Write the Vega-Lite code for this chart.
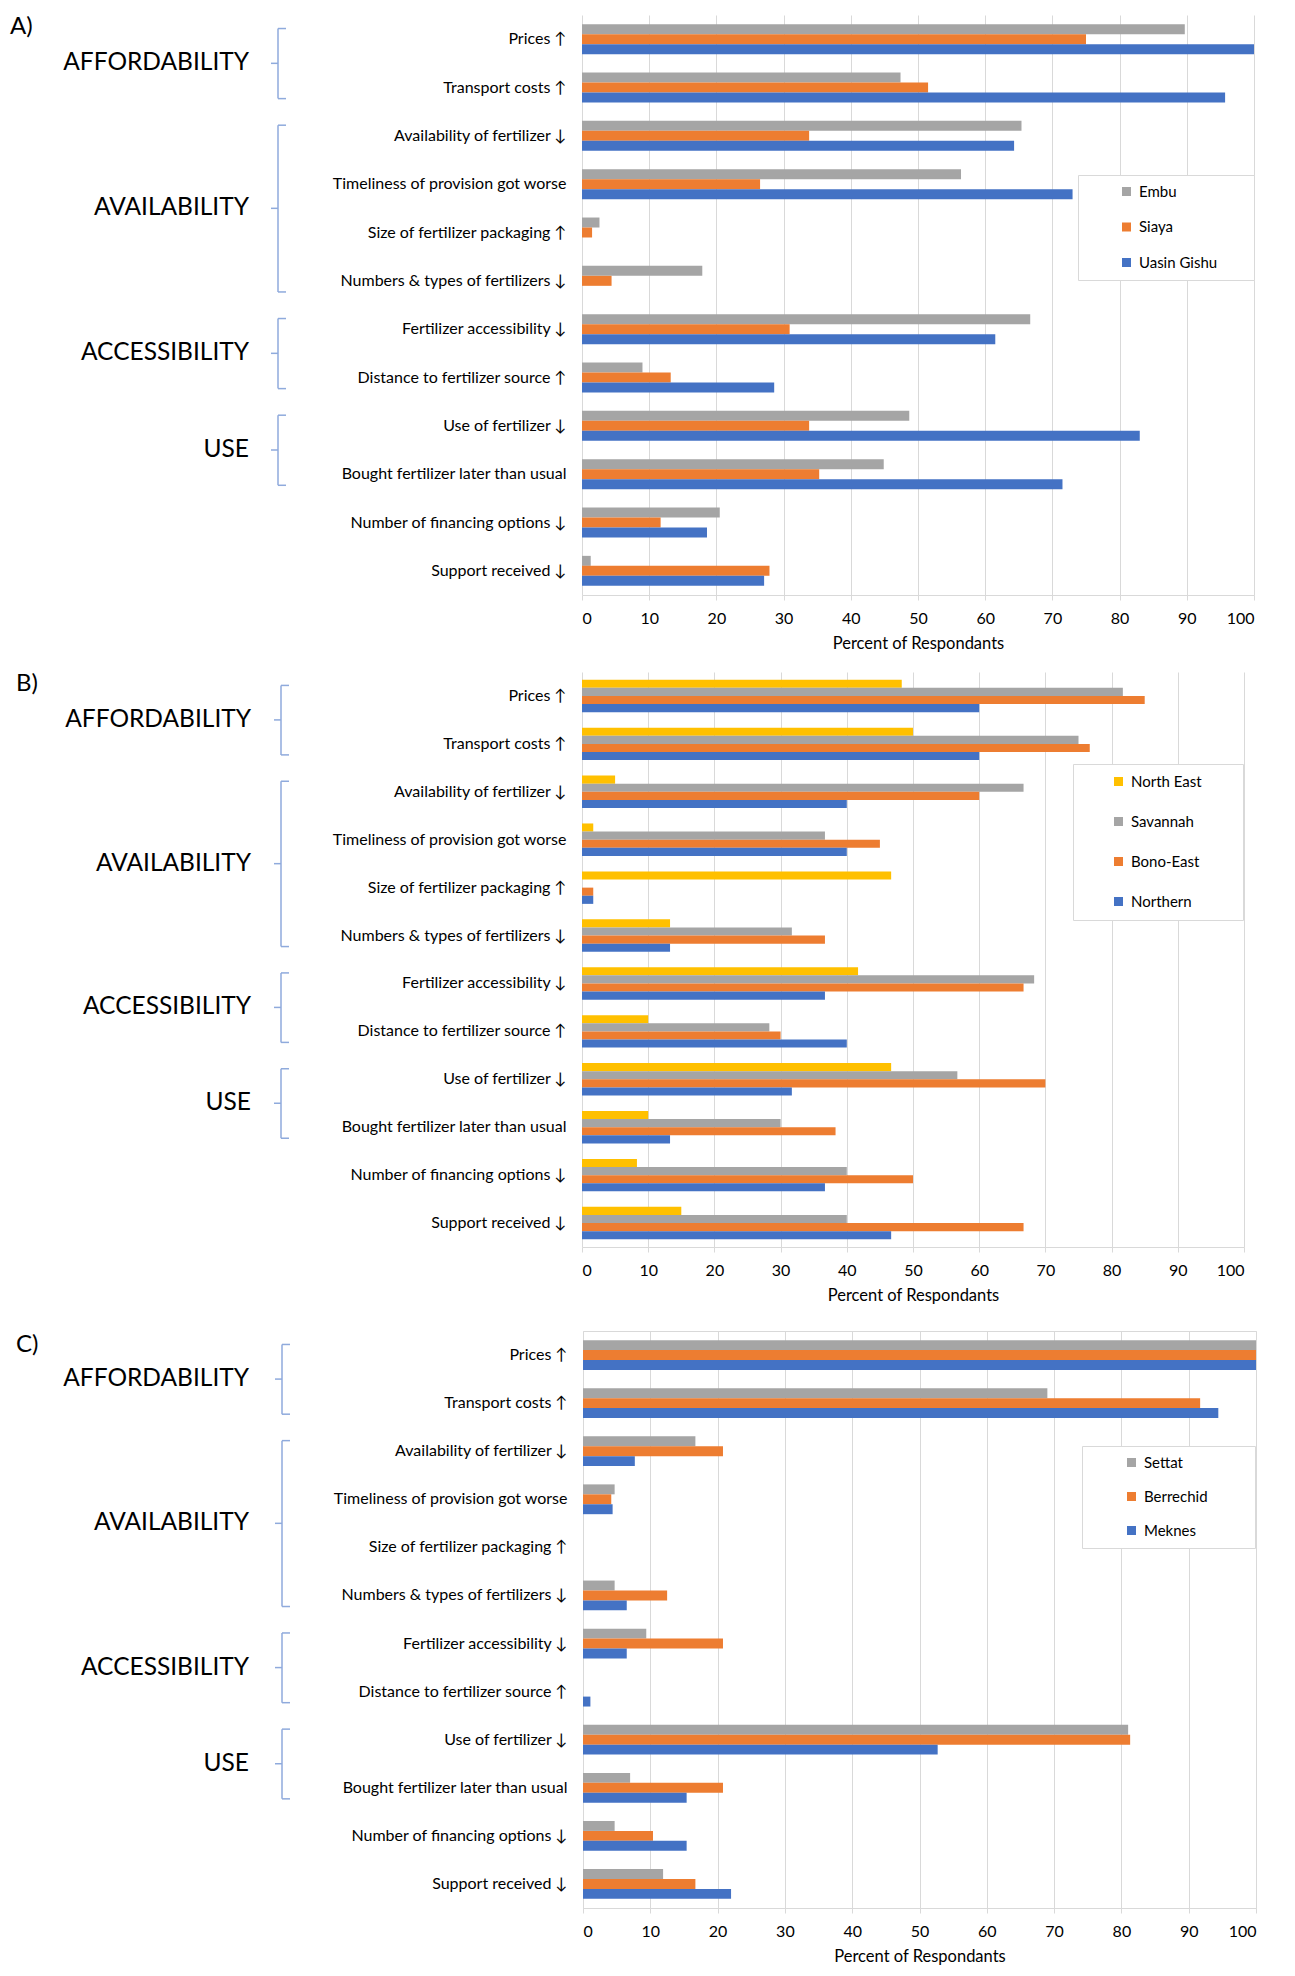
{
  "$schema": "https://vega.github.io/schema/vega-lite/v6.json",
  "padding": {"top": 15, "left": 0, "right": 10, "bottom": 0},
  "config": {
    "font": "Lato",
    "view": {"stroke": null},
    "axis": {"labelColor": "#000000", "titleColor": "#000000", "titleFontWeight": "normal"},
    "legend": {"labelColor": "#000000"}
  },
  "resolve": {"scale": {"color": "independent", "yOffset": "independent", "x": "independent", "y": "independent"}, "legend": {"color": "independent"}},
  "datasets": {
    "groups": [
      {"group": "AFFORDABILITY", "first": "Prices ↑", "last": "Transport costs ↑", "anchor": "Prices ↑"},
      {"group": "AVAILABILITY", "first": "Availability of fertilizer ↓", "last": "Numbers & types of fertilizers ↓", "anchor": "Timeliness of provision got worse"},
      {"group": "ACCESSIBILITY", "first": "Fertilizer accessibility ↓", "last": "Distance to fertilizer source ↑", "anchor": "Fertilizer accessibility ↓"},
      {"group": "USE", "first": "Use of fertilizer ↓", "last": "Bought fertilizer later than usual", "anchor": "Use of fertilizer ↓"}
    ],
    "kenya": [
      {"indicator": "Prices ↑", "Embu": 89.7, "Siaya": 75.0, "Uasin Gishu": 100},
      {"indicator": "Transport costs ↑", "Embu": 47.4, "Siaya": 51.5, "Uasin Gishu": 95.7},
      {"indicator": "Availability of fertilizer ↓", "Embu": 65.4, "Siaya": 33.8, "Uasin Gishu": 64.3},
      {"indicator": "Timeliness of provision got worse", "Embu": 56.4, "Siaya": 26.5, "Uasin Gishu": 73.0},
      {"indicator": "Size of fertilizer packaging ↑", "Embu": 2.6, "Siaya": 1.5, "Uasin Gishu": 0},
      {"indicator": "Numbers & types of fertilizers ↓", "Embu": 17.9, "Siaya": 4.4, "Uasin Gishu": 0},
      {"indicator": "Fertilizer accessibility ↓", "Embu": 66.7, "Siaya": 30.9, "Uasin Gishu": 61.5},
      {"indicator": "Distance to fertilizer source ↑", "Embu": 9.0, "Siaya": 13.2, "Uasin Gishu": 28.6},
      {"indicator": "Use of fertilizer ↓", "Embu": 48.7, "Siaya": 33.8, "Uasin Gishu": 83.0},
      {"indicator": "Bought fertilizer later than usual", "Embu": 44.9, "Siaya": 35.3, "Uasin Gishu": 71.5},
      {"indicator": "Number of financing options ↓", "Embu": 20.5, "Siaya": 11.7, "Uasin Gishu": 18.6},
      {"indicator": "Support received ↓", "Embu": 1.3, "Siaya": 27.9, "Uasin Gishu": 27.1}
    ],
    "ghana": [
      {"indicator": "Prices ↑", "North East": 48.3, "Savannah": 81.7, "Bono-East": 85.0, "Northern": 60.0},
      {"indicator": "Transport costs ↑", "North East": 50.0, "Savannah": 75.0, "Bono-East": 76.7, "Northern": 60.0},
      {"indicator": "Availability of fertilizer ↓", "North East": 5.0, "Savannah": 66.7, "Bono-East": 60.0, "Northern": 40.0},
      {"indicator": "Timeliness of provision got worse", "North East": 1.7, "Savannah": 36.7, "Bono-East": 45.0, "Northern": 40.0},
      {"indicator": "Size of fertilizer packaging ↑", "North East": 46.7, "Savannah": 0, "Bono-East": 1.7, "Northern": 1.7},
      {"indicator": "Numbers & types of fertilizers ↓", "North East": 13.3, "Savannah": 31.7, "Bono-East": 36.7, "Northern": 13.3},
      {"indicator": "Fertilizer accessibility ↓", "North East": 41.7, "Savannah": 68.3, "Bono-East": 66.7, "Northern": 36.7},
      {"indicator": "Distance to fertilizer source ↑", "North East": 10.0, "Savannah": 28.3, "Bono-East": 30.0, "Northern": 40.0},
      {"indicator": "Use of fertilizer ↓", "North East": 46.7, "Savannah": 56.7, "Bono-East": 70.0, "Northern": 31.7},
      {"indicator": "Bought fertilizer later than usual", "North East": 10.0, "Savannah": 30.0, "Bono-East": 38.3, "Northern": 13.3},
      {"indicator": "Number of financing options ↓", "North East": 8.3, "Savannah": 40.0, "Bono-East": 50.0, "Northern": 36.7},
      {"indicator": "Support received ↓", "North East": 15.0, "Savannah": 40.0, "Bono-East": 66.7, "Northern": 46.7}
    ],
    "morocco": [
      {"indicator": "Prices ↑", "Settat": 100, "Berrechid": 100, "Meknes": 100},
      {"indicator": "Transport costs ↑", "Settat": 69.0, "Berrechid": 91.7, "Meknes": 94.4},
      {"indicator": "Availability of fertilizer ↓", "Settat": 16.7, "Berrechid": 20.8, "Meknes": 7.7},
      {"indicator": "Timeliness of provision got worse", "Settat": 4.7, "Berrechid": 4.2, "Meknes": 4.4},
      {"indicator": "Size of fertilizer packaging ↑", "Settat": 0, "Berrechid": 0, "Meknes": 0},
      {"indicator": "Numbers & types of fertilizers ↓", "Settat": 4.7, "Berrechid": 12.5, "Meknes": 6.5},
      {"indicator": "Fertilizer accessibility ↓", "Settat": 9.4, "Berrechid": 20.8, "Meknes": 6.5},
      {"indicator": "Distance to fertilizer source ↑", "Settat": 0, "Berrechid": 0, "Meknes": 1.1},
      {"indicator": "Use of fertilizer ↓", "Settat": 81.0, "Berrechid": 81.3, "Meknes": 52.7},
      {"indicator": "Bought fertilizer later than usual", "Settat": 7.0, "Berrechid": 20.8, "Meknes": 15.4},
      {"indicator": "Number of financing options ↓", "Settat": 4.7, "Berrechid": 10.4, "Meknes": 15.4},
      {"indicator": "Support received ↓", "Settat": 11.9, "Berrechid": 16.7, "Meknes": 22.0}
    ]
  },
  "spacing": 20,
  "vconcat": [
    {
      "spacing": 0,
      "resolve": {"scale": {"color": "independent", "yOffset": "independent", "x": "independent", "y": "independent"}, "legend": {"color": "independent"}},
      "hconcat": [
        {
          "width": 325, "height": 580,
          "layer": [
            {
              "data": {"name": "groups"},
              "mark": {"type": "text", "align": "right", "baseline": "middle", "fontSize": 24.5, "color": "#000000"},
              "encoding": {
                "y": {"field": "anchor", "type": "nominal", "bandPosition": 1, "scale": {"domain": ["Prices ↑","Transport costs ↑","Availability of fertilizer ↓","Timeliness of provision got worse","Size of fertilizer packaging ↑","Numbers & types of fertilizers ↓","Fertilizer accessibility ↓","Distance to fertilizer source ↑","Use of fertilizer ↓","Bought fertilizer later than usual","Number of financing options ↓","Support received ↓"], "paddingInner": 0, "paddingOuter": 0}, "axis": null},
                "x": {"datum": 249, "type": "quantitative", "scale": {"domain": [0, 325], "nice": false, "zero": false}, "axis": null},
                "text": {"field": "group"}
              }
            },
            {
              "data": {"name": "groups"},
              "mark": {"type": "rule", "color": "#8faadc", "strokeWidth": 1.5},
              "encoding": {
                "y": {"field": "first", "type": "nominal", "bandPosition": 0.28},
                "y2": {"field": "last", "bandPosition": 0.73},
                "x": {"datum": 278, "type": "quantitative"}
              }
            },
            {
              "data": {"name": "groups"},
              "mark": {"type": "rule", "color": "#8faadc", "strokeWidth": 1.5},
              "encoding": {
                "y": {"field": "first", "type": "nominal", "bandPosition": 0.28},
                "x": {"datum": 278, "type": "quantitative"},
                "x2": {"datum": 286}
              }
            },
            {
              "data": {"name": "groups"},
              "mark": {"type": "rule", "color": "#8faadc", "strokeWidth": 1.5},
              "encoding": {
                "y": {"field": "last", "type": "nominal", "bandPosition": 0.73},
                "x": {"datum": 278, "type": "quantitative"},
                "x2": {"datum": 286}
              }
            },
            {
              "data": {"name": "groups"},
              "mark": {"type": "rule", "color": "#8faadc", "strokeWidth": 1.5},
              "encoding": {
                "y": {"field": "anchor", "type": "nominal", "bandPosition": 1},
                "x": {"datum": 271, "type": "quantitative"},
                "x2": {"datum": 278}
              }
            },
            {
              "data": {"values": [{"panel": "A)", "at": "Prices ↑"}]},
              "mark": {"type": "text", "align": "left", "baseline": "top", "fontSize": 24, "color": "#000000"},
              "encoding": {
                "y": {"field": "at", "type": "nominal", "bandPosition": 0},
                "x": {"datum": 10, "type": "quantitative"},
                "text": {"field": "panel"}
              }
            }
          ]
        },
        {
          "width": 672, "height": 580,
          "data": {"name": "kenya"},
          "transform": [{"fold": ["Embu", "Siaya", "Uasin Gishu"], "as": ["region", "percent"]}],
          "mark": {"type": "bar"},
          "encoding": {
            "y": {"field": "indicator", "type": "nominal", "scale": {"domain": ["Prices ↑","Transport costs ↑","Availability of fertilizer ↓","Timeliness of provision got worse","Size of fertilizer packaging ↑","Numbers & types of fertilizers ↓","Fertilizer accessibility ↓","Distance to fertilizer source ↑","Use of fertilizer ↓","Bought fertilizer later than usual","Number of financing options ↓","Support received ↓"], "paddingInner": 0, "paddingOuter": 0}, "axis": {"title": null, "labelFontSize": 16, "labelPadding": 16, "ticks": false, "domain": false, "minExtent": 257, "maxExtent": 257, "labelLimit": 320}},
            "yOffset": {"field": "region", "type": "nominal", "scale": {"domain": ["Embu", "Siaya", "Uasin Gishu"], "paddingInner": 0, "paddingOuter": 0.92}},
            "x": {"field": "percent", "type": "quantitative", "scale": {"domain": [0, 100]}, "axis": {"title": "Percent of Respondants", "values": [0,10,20,30,40,50,60,70,80,90,100], "grid": true, "gridColor": "#d9d9d9", "domainColor": "#d9d9d9", "tickColor": "#d9d9d9", "tickSize": 5, "labelPadding": 10, "titlePadding": 9, "labelFontSize": 16, "titleFontSize": 16.5}},
            "color": {"field": "region", "type": "nominal", "scale": {"domain": ["Embu", "Siaya", "Uasin Gishu"], "range": ["#a5a5a5", "#ed7d31", "#4472c4"]}, "legend": {"title": null, "orient": "none", "legendX": 496, "legendY": 160, "symbolType": "square", "symbolSize": 81, "labelFontSize": 15, "padding": 9, "symbolOffset": 32, "labelOffset": 5, "rowPadding": 19.5, "strokeColor": "#d9d9d9", "fillColor": "#ffffff", "labelExpr": "datum.label + '\u00a0\u00a0\u00a0\u00a0\u00a0\u00a0\u00a0\u200b'"}}
          }
        }
      ]
    },
    {
      "spacing": 26,
      "resolve": {"scale": {"color": "independent", "yOffset": "independent", "x": "independent", "y": "independent"}, "legend": {"color": "independent"}},
      "vconcat": [
        {
          "spacing": 0,
          "resolve": {"scale": {"color": "independent", "yOffset": "independent", "x": "independent", "y": "independent"}, "legend": {"color": "independent"}},
          "hconcat": [
            {
              "width": 325, "height": 575,
              "layer": [
                {
                  "data": {"name": "groups"},
                  "mark": {"type": "text", "align": "right", "baseline": "middle", "fontSize": 24.5, "color": "#000000"},
                  "encoding": {
                    "y": {"field": "anchor", "type": "nominal", "bandPosition": 1, "scale": {"domain": ["Prices ↑","Transport costs ↑","Availability of fertilizer ↓","Timeliness of provision got worse","Size of fertilizer packaging ↑","Numbers & types of fertilizers ↓","Fertilizer accessibility ↓","Distance to fertilizer source ↑","Use of fertilizer ↓","Bought fertilizer later than usual","Number of financing options ↓","Support received ↓"], "paddingInner": 0, "paddingOuter": 0}, "axis": null},
                    "x": {"datum": 251, "type": "quantitative", "scale": {"domain": [0, 325], "nice": false, "zero": false}, "axis": null},
                    "text": {"field": "group"}
                  }
                },
                {
                  "data": {"name": "groups"},
                  "mark": {"type": "rule", "color": "#8faadc", "strokeWidth": 1.5},
                  "encoding": {
                    "y": {"field": "first", "type": "nominal", "bandPosition": 0.28},
                    "y2": {"field": "last", "bandPosition": 0.73},
                    "x": {"datum": 281, "type": "quantitative"}
                  }
                },
                {
                  "data": {"name": "groups"},
                  "mark": {"type": "rule", "color": "#8faadc", "strokeWidth": 1.5},
                  "encoding": {
                    "y": {"field": "first", "type": "nominal", "bandPosition": 0.28},
                    "x": {"datum": 281, "type": "quantitative"},
                    "x2": {"datum": 289}
                  }
                },
                {
                  "data": {"name": "groups"},
                  "mark": {"type": "rule", "color": "#8faadc", "strokeWidth": 1.5},
                  "encoding": {
                    "y": {"field": "last", "type": "nominal", "bandPosition": 0.73},
                    "x": {"datum": 281, "type": "quantitative"},
                    "x2": {"datum": 289}
                  }
                },
                {
                  "data": {"name": "groups"},
                  "mark": {"type": "rule", "color": "#8faadc", "strokeWidth": 1.5},
                  "encoding": {
                    "y": {"field": "anchor", "type": "nominal", "bandPosition": 1},
                    "x": {"datum": 274, "type": "quantitative"},
                    "x2": {"datum": 281}
                  }
                },
                {
                  "data": {"values": [{"panel": "B)", "at": "Prices ↑"}]},
                  "mark": {"type": "text", "align": "left", "baseline": "top", "fontSize": 24, "color": "#000000"},
                  "encoding": {
                    "y": {"field": "at", "type": "nominal", "bandPosition": 0},
                    "x": {"datum": 16, "type": "quantitative"},
                    "text": {"field": "panel"}
                  }
                }
              ]
            },
            {
              "width": 662, "height": 575,
              "data": {"name": "ghana"},
              "transform": [{"fold": ["North East", "Savannah", "Bono-East", "Northern"], "as": ["region", "percent"]}],
              "mark": {"type": "bar"},
              "encoding": {
                "y": {"field": "indicator", "type": "nominal", "scale": {"domain": ["Prices ↑","Transport costs ↑","Availability of fertilizer ↓","Timeliness of provision got worse","Size of fertilizer packaging ↑","Numbers & types of fertilizers ↓","Fertilizer accessibility ↓","Distance to fertilizer source ↑","Use of fertilizer ↓","Bought fertilizer later than usual","Number of financing options ↓","Support received ↓"], "paddingInner": 0, "paddingOuter": 0}, "axis": {"title": null, "labelFontSize": 16, "labelPadding": 16, "ticks": false, "domain": false, "minExtent": 257, "maxExtent": 257, "labelLimit": 320}},
                "yOffset": {"field": "region", "type": "nominal", "scale": {"domain": ["North East", "Savannah", "Bono-East", "Northern"], "paddingInner": 0, "paddingOuter": 0.95}},
                "x": {"field": "percent", "type": "quantitative", "scale": {"domain": [0, 100]}, "axis": {"title": "Percent of Respondants", "values": [0,10,20,30,40,50,60,70,80,90,100], "grid": true, "gridColor": "#d9d9d9", "domainColor": "#d9d9d9", "tickColor": "#d9d9d9", "tickSize": 5, "labelPadding": 10, "titlePadding": 9, "labelFontSize": 16, "titleFontSize": 16.5}},
                "color": {"field": "region", "type": "nominal", "scale": {"domain": ["North East", "Savannah", "Bono-East", "Northern"], "range": ["#ffc000", "#a5a5a5", "#ed7d31", "#4472c4"]}, "legend": {"title": null, "orient": "none", "legendX": 491, "legendY": 92, "symbolType": "square", "symbolSize": 81, "labelFontSize": 15, "padding": 10, "symbolOffset": 28, "labelOffset": 5, "rowPadding": 24, "strokeColor": "#d9d9d9", "fillColor": "#ffffff", "labelExpr": "datum.label + '\u00a0\u00a0\u00a0\u00a0\u00a0\u00a0\u00a0\u00a0\u200b'"}}
              }
            }
          ]
        },
        {
          "spacing": 0,
          "resolve": {"scale": {"color": "independent", "yOffset": "independent", "x": "independent", "y": "independent"}, "legend": {"color": "independent"}},
          "hconcat": [
            {
              "width": 325, "height": 577,
              "layer": [
                {
                  "data": {"name": "groups"},
                  "mark": {"type": "text", "align": "right", "baseline": "middle", "fontSize": 24.5, "color": "#000000"},
                  "encoding": {
                    "y": {"field": "anchor", "type": "nominal", "bandPosition": 1, "scale": {"domain": ["Prices ↑","Transport costs ↑","Availability of fertilizer ↓","Timeliness of provision got worse","Size of fertilizer packaging ↑","Numbers & types of fertilizers ↓","Fertilizer accessibility ↓","Distance to fertilizer source ↑","Use of fertilizer ↓","Bought fertilizer later than usual","Number of financing options ↓","Support received ↓"], "paddingInner": 0, "paddingOuter": 0}, "axis": null},
                    "x": {"datum": 249, "type": "quantitative", "scale": {"domain": [0, 325], "nice": false, "zero": false}, "axis": null},
                    "text": {"field": "group"}
                  }
                },
                {
                  "data": {"name": "groups"},
                  "mark": {"type": "rule", "color": "#8faadc", "strokeWidth": 1.5},
                  "encoding": {
                    "y": {"field": "first", "type": "nominal", "bandPosition": 0.28},
                    "y2": {"field": "last", "bandPosition": 0.73},
                    "x": {"datum": 282, "type": "quantitative"}
                  }
                },
                {
                  "data": {"name": "groups"},
                  "mark": {"type": "rule", "color": "#8faadc", "strokeWidth": 1.5},
                  "encoding": {
                    "y": {"field": "first", "type": "nominal", "bandPosition": 0.28},
                    "x": {"datum": 282, "type": "quantitative"},
                    "x2": {"datum": 290}
                  }
                },
                {
                  "data": {"name": "groups"},
                  "mark": {"type": "rule", "color": "#8faadc", "strokeWidth": 1.5},
                  "encoding": {
                    "y": {"field": "last", "type": "nominal", "bandPosition": 0.73},
                    "x": {"datum": 282, "type": "quantitative"},
                    "x2": {"datum": 290}
                  }
                },
                {
                  "data": {"name": "groups"},
                  "mark": {"type": "rule", "color": "#8faadc", "strokeWidth": 1.5},
                  "encoding": {
                    "y": {"field": "anchor", "type": "nominal", "bandPosition": 1},
                    "x": {"datum": 275, "type": "quantitative"},
                    "x2": {"datum": 282}
                  }
                },
                {
                  "data": {"values": [{"panel": "C)", "at": "Prices ↑"}]},
                  "mark": {"type": "text", "align": "left", "baseline": "top", "fontSize": 24, "color": "#000000"},
                  "encoding": {
                    "y": {"field": "at", "type": "nominal", "bandPosition": 0.05},
                    "x": {"datum": 16, "type": "quantitative"},
                    "text": {"field": "panel"}
                  }
                }
              ]
            },
            {
              "width": 673, "height": 577,
              "view": {"stroke": "#d9d9d9"},
              "data": {"name": "morocco"},
              "transform": [{"fold": ["Settat", "Berrechid", "Meknes"], "as": ["region", "percent"]}],
              "mark": {"type": "bar"},
              "encoding": {
                "y": {"field": "indicator", "type": "nominal", "scale": {"domain": ["Prices ↑","Transport costs ↑","Availability of fertilizer ↓","Timeliness of provision got worse","Size of fertilizer packaging ↑","Numbers & types of fertilizers ↓","Fertilizer accessibility ↓","Distance to fertilizer source ↑","Use of fertilizer ↓","Bought fertilizer later than usual","Number of financing options ↓","Support received ↓"], "paddingInner": 0, "paddingOuter": 0}, "axis": {"title": null, "labelFontSize": 16, "labelPadding": 16, "ticks": false, "domain": false, "minExtent": 257, "maxExtent": 257, "labelLimit": 320}},
                "yOffset": {"field": "region", "type": "nominal", "scale": {"domain": ["Settat", "Berrechid", "Meknes"], "paddingInner": 0, "paddingOuter": 0.92}},
                "x": {"field": "percent", "type": "quantitative", "scale": {"domain": [0, 100]}, "axis": {"title": "Percent of Respondants", "values": [0,10,20,30,40,50,60,70,80,90,100], "grid": true, "gridColor": "#d9d9d9", "domainColor": "#d9d9d9", "tickColor": "#d9d9d9", "tickSize": 5, "labelPadding": 10, "titlePadding": 9, "labelFontSize": 16, "titleFontSize": 16.5}},
                "color": {"field": "region", "type": "nominal", "scale": {"domain": ["Settat", "Berrechid", "Meknes"], "range": ["#a5a5a5", "#ed7d31", "#4472c4"]}, "legend": {"title": null, "orient": "none", "legendX": 499, "legendY": 115, "symbolType": "square", "symbolSize": 81, "labelFontSize": 15, "padding": 9, "symbolOffset": 33, "labelOffset": 5, "rowPadding": 18, "strokeColor": "#d9d9d9", "fillColor": "#ffffff", "labelExpr": "datum.label + '\u00a0\u00a0\u00a0\u00a0\u00a0\u00a0\u00a0\u00a0\u00a0\u00a0\u200b'"}}
              }
            }
          ]
        }
      ]
    }
  ]
}
